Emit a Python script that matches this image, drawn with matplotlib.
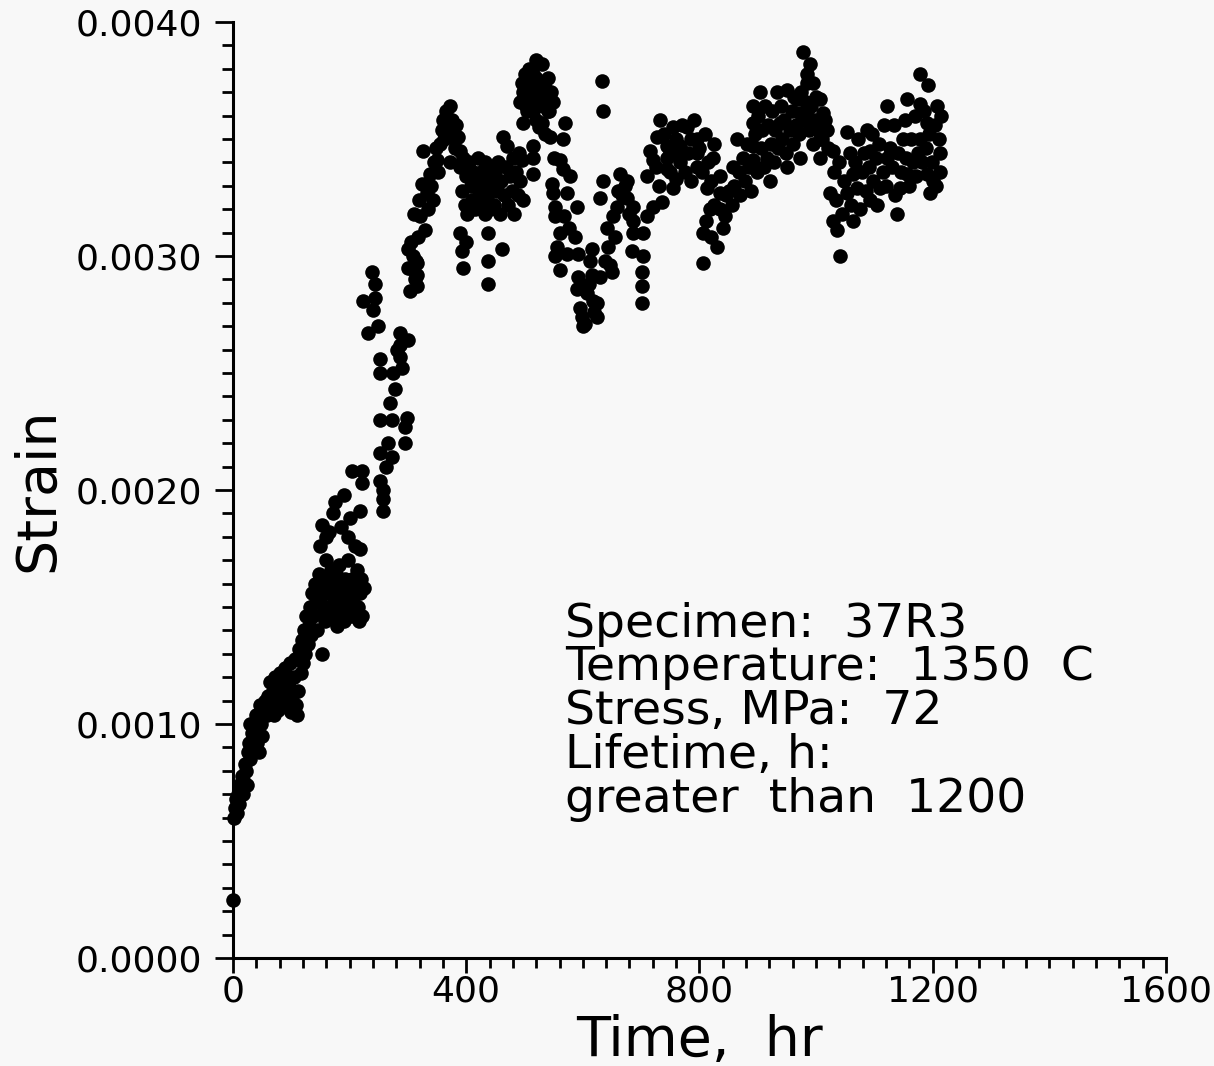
import numpy as np
import matplotlib
matplotlib.use("Agg")
import matplotlib.pyplot as plt
from matplotlib.ticker import MultipleLocator, FormatStrFormatter

# Creep strain readings (time in hr, strain in units of 1e-3) in segments

time_a = [0, 2, 3, 5, 7, 9, 10, 12, 14, 15, 17, 18, 20, 22, 24, 26, 27, 29, 30, 32,
          34, 36, 38, 40, 42, 44, 46, 48, 50, 52, 55, 58]
strain_a = [0.25, 0.60, 0.64, 0.68, 0.62, 0.70, 0.66, 0.72, 0.75, 0.78, 0.76, 0.70, 0.83, 0.80, 0.74, 0.88, 0.92, 1.00, 0.85, 0.96,
            0.90, 0.98, 0.96, 1.04, 0.92, 0.88, 1.08, 1.00, 0.95, 1.06, 1.10, 1.04]

time_b = [60, 62, 64, 66, 68, 70, 72, 74, 76, 78, 80, 82, 84, 86, 88, 90, 92, 94, 96, 98,
          100, 102, 104, 106, 108, 110, 112, 114, 116, 118, 120, 122, 124, 126, 128]
strain_b = [1.12, 1.05, 1.18, 1.08, 1.14, 1.04, 1.20, 1.10, 1.16, 1.06, 1.22, 1.12, 1.18, 1.08, 1.14, 1.24, 1.10, 1.20, 1.16, 1.26,
            1.05, 1.12, 1.20, 1.28, 1.08, 1.04, 1.14, 1.32, 1.22, 1.36, 1.26, 1.40, 1.30, 1.46, 1.34]

time_c = [130, 132, 134, 136, 138, 140, 142, 144, 146, 148, 150, 152, 154, 156, 158, 160, 162, 164, 166, 168,
          170, 172, 174, 176, 178, 180, 182, 184, 186, 188, 190, 192, 194, 196, 198, 200, 202, 204, 206, 208,
          210, 212, 214, 216, 218, 220, 222, 224,
          149, 153, 160, 165, 172, 175, 185, 190, 197, 201, 204, 210, 218, 218, 221, 221]
strain_c = [1.42, 1.50, 1.38, 1.56, 1.46, 1.60, 1.52, 1.40, 1.58, 1.64, 1.54, 1.30, 1.48, 1.62, 1.44, 1.70, 1.56, 1.50, 1.60, 1.66,
            1.46, 1.58, 1.52, 1.64, 1.42, 1.56, 1.68, 1.48, 1.60, 1.54, 1.44, 1.62, 1.58, 1.50, 1.70, 1.56, 1.46, 1.62, 1.52, 1.48,
            1.60, 1.66, 1.50, 1.44, 1.56, 1.62, 1.46, 1.58,
            1.76, 1.85, 1.80, 1.82, 1.90, 1.95, 1.84, 1.98, 1.80, 1.88, 2.08, 1.76, 1.91, 1.75, 2.08, 2.03]

time_d = [223, 232, 238, 240, 244, 244, 249, 252, 252, 252, 252, 252, 257, 257, 257, 262, 266, 269, 273, 273,
          274, 278, 282, 286, 286, 286, 290, 295, 295, 298, 300, 300, 300, 304, 304, 309, 312, 316, 316, 316, 318]
strain_d = [2.81, 2.67, 2.93, 2.77, 2.88, 2.82, 2.70, 2.04, 2.16, 2.30, 2.50, 2.56, 1.96, 1.91, 2.00, 2.10, 2.20, 2.37, 2.14, 2.30,
            2.50, 2.43, 2.60, 2.67, 2.62, 2.57, 2.52, 2.20, 2.27, 2.31, 2.64, 3.03, 2.95, 2.85, 2.95, 3.00, 2.90, 2.97, 2.92, 2.87, 3.08]

time_e = [306, 311, 314, 319, 321, 324, 326, 329, 333, 335, 338, 340, 343, 345, 348, 350, 352, 355, 358, 360,
          362, 365, 367, 370, 372, 372, 375, 378, 380, 383, 386, 389]
strain_e = [3.06, 3.18, 2.98, 3.24, 3.17, 3.31, 3.45, 3.11, 3.27, 3.20, 3.35, 3.30, 3.24, 3.40, 3.46, 3.41, 3.36, 3.48, 3.54, 3.58,
            3.50, 3.62, 3.51, 3.56, 3.64, 3.40, 3.58, 3.52, 3.46, 3.56, 3.51, 3.45]

time_f = [390, 392, 395, 398, 400, 402, 405, 408, 410, 412, 415, 418, 420, 422, 425, 428, 430, 432, 435, 438,
          440, 442, 389, 392, 395, 400, 437, 437, 437, 432, 445,
          448, 450, 452, 455, 458, 460, 461, 463, 465, 468, 470, 472, 475, 478, 480, 482, 485, 488, 490, 492, 495, 497]
strain_f = [3.38, 3.28, 3.42, 3.22, 3.34, 3.18, 3.40, 3.30, 3.24, 3.36, 3.20, 3.32, 3.42, 3.26, 3.36, 3.22, 3.30, 3.40, 3.25, 3.34,
            3.20, 3.38, 3.10, 3.02, 2.95, 3.06, 3.10, 2.98, 2.88, 3.18, 3.30,
            3.22, 3.36, 3.28, 3.40, 3.18, 3.32, 3.03, 3.51, 3.26, 3.38, 3.47, 3.22, 3.34, 3.28, 3.42, 3.18, 3.36, 3.26, 3.44, 3.32, 3.41, 3.24]

time_g = [492, 495, 498, 500, 502, 505, 508, 510, 512, 515, 518, 520, 522, 525, 528, 530, 532, 535, 538, 540,
          542, 545, 548, 500, 510, 520, 530, 540, 505, 515, 525, 535,
          497, 530, 540, 569, 544, 566, 515, 515, 515, 550, 561, 566, 547, 578, 549, 573, 552, 590, 553, 567,
          561, 577, 587, 556, 552, 573, 592, 561, 520, 525, 535]
strain_g = [3.66, 3.74, 3.70, 3.78, 3.64, 3.72, 3.80, 3.68, 3.76, 3.62, 3.70, 3.84, 3.66, 3.74, 3.70, 3.82, 3.64, 3.72, 3.68, 3.76,
            3.62, 3.70, 3.66, 3.70, 3.72, 3.76, 3.68, 3.64, 3.62, 3.78, 3.74, 3.68,
            3.57, 3.57, 3.62, 3.57, 3.51, 3.50, 3.47, 3.42, 3.35, 3.42, 3.41, 3.37, 3.31, 3.34, 3.27, 3.27, 3.21, 3.21, 3.17, 3.17,
            3.10, 3.12, 3.08, 3.04, 3.00, 3.01, 3.01, 2.94, 3.58, 3.55, 3.52]

time_h = [592, 595, 600, 604, 607, 612, 616, 617, 620, 624, 629, 629, 633, 635, 635, 641, 643, 646, 650, 652,
          655, 659, 660, 664, 668, 672, 676, 676, 680, 684, 686, 686, 686, 590, 598, 610, 625, 638, 600, 615]
strain_h = [2.91, 2.78, 2.86, 2.71, 2.84, 2.98, 3.03, 2.81, 2.76, 2.74, 2.91, 3.25, 3.75, 3.62, 3.32, 3.12, 3.04, 2.96, 2.93, 3.17,
            3.08, 3.21, 3.28, 3.35, 3.26, 3.30, 3.32, 3.25, 3.18, 3.02, 3.21, 3.15, 3.10, 2.86, 2.74, 2.88, 2.80, 2.98, 2.70, 2.92]

time_k = [702, 702, 702, 703, 703, 710, 720, 736, 710, 720, 732, 727, 755, 779, 744, 744, 744, 767, 767, 767,
          796, 796, 796, 823, 755, 813, 806, 830, 806, 818, 835, 835, 835, 715, 725, 730, 740, 750, 750, 760,
          760, 770, 775, 780, 785, 785, 790, 800, 805, 810, 815, 820, 825, 812, 820, 825, 840, 845]
strain_k = [2.93, 2.87, 2.80, 3.00, 3.10, 3.17, 3.21, 3.23, 3.34, 3.41, 3.58, 3.51, 3.55, 3.55, 3.47, 3.42, 3.37, 3.47, 3.43, 3.40,
            3.50, 3.44, 3.38, 3.42, 3.29, 3.29, 3.10, 3.04, 2.97, 3.20, 3.34, 3.27, 3.20, 3.45, 3.38, 3.30, 3.52, 3.36, 3.44, 3.50,
            3.33, 3.56, 3.36, 3.44, 3.50, 3.32, 3.58, 3.46, 3.36, 3.52, 3.40, 3.32, 3.48, 3.15, 3.08, 3.22, 3.12, 3.26]

time_l = [844, 858, 864, 892, 892, 904, 933, 892, 892, 921, 950, 910, 950, 967, 978, 990, 985, 985, 995, 1007,
          1012, 1019, 1007, 1007, 1029, 973, 973, 938, 985,
          850, 855, 860, 868, 870, 875, 878, 882, 885, 888, 895, 898, 900, 905, 908, 912, 915, 918, 922, 925,
          928, 930, 935, 940, 942, 945, 948, 955, 958, 960, 963, 965, 970, 975, 980, 982, 988, 992, 995, 998,
          1000, 1003, 1010, 1015, 1020]
strain_l = [3.17, 3.38, 3.50, 3.64, 3.57, 3.70, 3.70, 3.47, 3.41, 3.32, 3.38, 3.38, 3.71, 3.67, 3.87, 3.82, 3.78, 3.74, 3.74, 3.67,
            3.61, 3.54, 3.50, 3.42, 3.45, 3.42, 3.61, 3.57, 3.62,
            3.28, 3.22, 3.30, 3.36, 3.26, 3.42, 3.32, 3.48, 3.38, 3.28, 3.52, 3.36, 3.60, 3.46, 3.54, 3.64, 3.42, 3.56, 3.48, 3.62,
            3.40, 3.54, 3.46, 3.64, 3.50, 3.58, 3.44, 3.54, 3.62, 3.48, 3.68, 3.56, 3.52, 3.70, 3.58, 3.66, 3.54, 3.64, 3.48, 3.58,
            3.68, 3.54, 3.50, 3.58, 3.46]

time_m = [1024, 1029, 1036, 1063, 1041, 1053, 1087, 1122, 1156, 1178, 1192, 1208, 1178, 1139, 1196, 1201, 1190, 1213, 1070, 1093,
          1110, 1144, 1156, 1122, 1093, 1149, 1178, 1190, 1063, 1053,
          1030, 1035, 1040, 1045, 1048, 1058, 1060, 1066, 1072, 1075, 1078, 1082, 1085, 1090, 1096, 1098, 1102, 1105, 1108, 1114,
          1117, 1120, 1126, 1130, 1133, 1136, 1140, 1146, 1152, 1154, 1160, 1163, 1166, 1170, 1172, 1175, 1182, 1185, 1188, 1194,
          1198, 1204, 1206, 1210, 1214, 1212]
strain_m = [3.27, 3.15, 3.11, 3.15, 3.00, 3.53, 3.54, 3.64, 3.67, 3.78, 3.73, 3.64, 3.65, 3.18, 3.27, 3.32, 3.35, 3.44, 3.29, 3.24,
            3.29, 3.29, 3.35, 3.42, 3.45, 3.50, 3.50, 3.57, 3.35, 3.27,
            3.36, 3.24, 3.40, 3.18, 3.32, 3.44, 3.22, 3.40, 3.50, 3.20, 3.36, 3.44, 3.28, 3.38, 3.52, 3.32, 3.42, 3.22, 3.48, 3.36,
            3.56, 3.30, 3.46, 3.38, 3.56, 3.26, 3.44, 3.36, 3.58, 3.42, 3.30, 3.50, 3.40, 3.60, 3.34, 3.44, 3.40, 3.62, 3.46, 3.52,
            3.40, 3.56, 3.30, 3.50, 3.60, 3.36]

x_ticks = [0, 400, 800, 1200, 1600]
y_ticks = [0.0, 0.001, 0.002, 0.003, 0.004]

info_lines = ["Specimen:  37R3", "Temperature:  1350  C", "Stress, MPa:  72",
              "Lifetime, h:", "greater  than  1200"]

time_segments = [time_a, time_b, time_c, time_d, time_e, time_f, time_g, time_h, time_k, time_l, time_m]
strain_segments = [strain_a, strain_b, strain_c, strain_d, strain_e, strain_f, strain_g, strain_h, strain_k, strain_l, strain_m]

for t_seg, s_seg in zip(time_segments, strain_segments):
    assert len(t_seg) == len(s_seg), (len(t_seg), len(s_seg))

time = np.concatenate([np.array(t, dtype=float) for t in time_segments])
strain = np.concatenate([np.array(s, dtype=float) for s in strain_segments]) * 1e-3

# Figure
bg = "#f8f8f8"
fig = plt.figure(figsize=(12.14, 10.66), dpi=100, facecolor=bg)
ax = fig.add_axes([0.1919, 0.1013, 0.7685, 0.878], facecolor=bg)

ax.plot(time, strain, "o", color="black", markersize=10.5, markeredgewidth=0, clip_on=False)

ax.set_xlim(0, 1600)
ax.set_ylim(0, 0.004)

for side in ["top", "right"]:
    ax.spines[side].set_visible(False)
for side in ["left", "bottom"]:
    ax.spines[side].set_linewidth(2.2)

ax.set_xticks(x_ticks)
ax.set_yticks(y_ticks)
ax.xaxis.set_minor_locator(MultipleLocator(40))
ax.yaxis.set_minor_locator(MultipleLocator(0.0001))
ax.yaxis.set_major_formatter(FormatStrFormatter("%.4f"))

ax.tick_params(axis="x", which="major", direction="out", length=11, width=2, labelsize=26, pad=1)
ax.tick_params(axis="x", which="minor", direction="out", length=7, width=2)
ax.tick_params(axis="y", which="major", direction="out", length=13, width=2, labelsize=26, pad=9)
ax.tick_params(axis="y", which="minor", direction="out", length=8, width=2)

ax.set_xlabel("Time,  hr", fontsize=40, labelpad=4)
ax.set_ylabel("Strain", fontsize=40, labelpad=8)

# Specimen info block
y_pos = [0.356, 0.310, 0.263, 0.216, 0.169]
for line, yy in zip(info_lines, y_pos):
    ax.text(0.356, yy, line, transform=ax.transAxes, fontsize=34, va="center", ha="left")

plt.savefig("out.png", dpi=100, facecolor=bg)
plt.close()
